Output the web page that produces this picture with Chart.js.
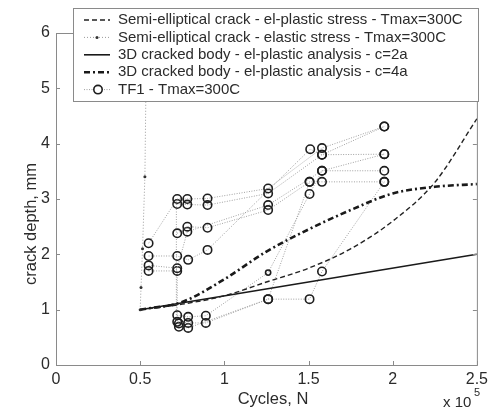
<!DOCTYPE html>
<html>
<head>
<meta charset="utf-8">
<script src="https://cdn.jsdelivr.net/npm/chart.js@4/dist/chart.umd.min.js"></script>
<style>
  html, body { margin: 0; padding: 0; background: #fff; }
  #crack { display: block; }
</style>
</head>
<body>
<canvas id="crack" width="493" height="411"></canvas>
<script>
// model curves (cycles, crack depth in mm)
const cyclesModel = [50000, 75000, 100000, 125000, 150000, 175000, 200000, 225000, 250000];
const depthElPlastic = [1.0, 1.1, 1.25, 1.5, 1.75, 2.1, 2.6, 3.3, 4.45];
const depthC4a = [1.0, 1.14, 1.55, 2.05, 2.45, 2.8, 3.1, 3.22, 3.27];

const cyclesC2a = [50000, 250000];
const depthC2a = [1.0, 2.0];

const cyclesElastic = [50000, 50500, 51400, 52800, 54000];
const depthElastic = [1.0, 1.4, 2.1, 3.4, 6.5];

// TF1 test specimens, each one a chain of measurements
const tf1Cycles = [
  [55000, 72000, 78000, 90000, 126000, 158000, 195000],
  [72000, 78000, 90000, 126000, 158000, 195000],
  [72000, 78000, 90000, 126000, 150600, 158000, 195000],
  [55000, 72000, 78500, 90000, 151000, 158000, 195000],
  [55000, 72000, 78000, 126000, 158000, 195000],
  [72000, 78500, 89000, 126000, 150600, 158000, 195000],
  [55000, 72000, 72000, 78500, 89000, 126000, 150600, 158000, 195000],
  [73000, 73000, 78500, 126000, 150600],
  [71500, 71500]
];
const tf1Depth = [
  [2.2, 3.0, 3.0, 3.01, 3.19, 3.92, 4.31],
  [2.91, 2.9, 2.89, 3.1, 3.8, 4.31],
  [2.38, 2.5, 2.48, 2.8, 3.31, 3.31, 3.31],
  [1.97, 1.97, 1.9, 2.08, 3.9, 3.8, 3.81],
  [1.8, 1.75, 2.41, 2.89, 3.51, 3.81],
  [0.9, 0.87, 0.89, 1.67, 3.09, 3.51, 3.51],
  [1.7, 1.7, 0.78, 0.76, 0.76, 1.19, 1.19, 1.69, 3.31],
  [0.75, 0.69, 0.67, 1.19, 3.31],
  [3.0, 0.9]
];

const xTicks = [0, 50000, 100000, 150000, 200000, 250000];
const yTicks = [0, 1, 2, 3, 4, 5, 6];

const FONT = "'Liberation Sans', Arial, sans-serif";
const INK = "#2b2b2b";
const FRAME = "#8a8a8a";

function pts(xs, ys) {
  return xs.map((x, i) => ({ x: x, y: ys[i] }));
}

const datasets = [
  {
    label: "Semi-elliptical crack - el-plastic stress - Tmax=300C",
    data: pts(cyclesModel, depthElPlastic),
    borderColor: "#222", borderWidth: 1.4, borderDash: [5, 3],
    pointRadius: 0, tension: 0.4, cubicInterpolationMode: "monotone"
  },
  {
    label: "Semi-elliptical crack - elastic stress - Tmax=300C",
    data: pts(cyclesElastic, depthElastic),
    borderColor: "#9a9a9a", borderWidth: 1, borderDash: [1, 2],
    pointRadius: 1.5, pointBackgroundColor: "#333", pointBorderColor: "#333", pointBorderWidth: 0
  },
  {
    label: "3D cracked body - el-plastic analysis - c=2a",
    data: pts(cyclesC2a, depthC2a),
    borderColor: "#1a1a1a", borderWidth: 1.6, pointRadius: 0
  },
  {
    label: "3D cracked body - el-plastic analysis - c=4a",
    data: pts(cyclesModel, depthC4a),
    borderColor: "#1a1a1a", borderWidth: 2.6, borderDash: [6, 3, 2, 3],
    pointRadius: 0, tension: 0.4, cubicInterpolationMode: "monotone"
  }
];

tf1Cycles.forEach((xs, k) => {
  datasets.push({
    label: k === 0 ? "TF1 - Tmax=300C" : "",
    legend: k === 0,
    data: pts(xs, tf1Depth[k]),
    borderColor: "#a0a0a0", borderWidth: 1, borderDash: [1, 1.5],
    pointRadius: k === 8 ? 0 : (ctx) => (k === 5 && ctx.dataIndex === 3 ? 2.6 : 4.2),
    pointBorderColor: "#1e1e1e", pointBorderWidth: 1.6,
    pointBackgroundColor: "rgba(0,0,0,0)"
  });
});

// inward ticks, frame, axis titles and the boxed legend
const decor = {
  id: "decor",
  afterDatasetsDraw(chart) {
    const { ctx, chartArea: a, scales } = chart;
    ctx.save();
    ctx.strokeStyle = FRAME;
    ctx.lineWidth = 1;
    ctx.setLineDash([]);
    ctx.strokeRect(a.left + 0.5, a.top + 0.5, a.right - a.left, a.bottom - a.top);
    ctx.beginPath();
    xTicks.forEach((v) => {
      const p = Math.round(scales.x.getPixelForValue(v)) + 0.5;
      ctx.moveTo(p, a.bottom); ctx.lineTo(p, a.bottom - 4);
      ctx.moveTo(p, a.top); ctx.lineTo(p, a.top + 4);
    });
    yTicks.forEach((v) => {
      const p = Math.round(scales.y.getPixelForValue(v)) + 0.5;
      ctx.moveTo(a.left, p); ctx.lineTo(a.left + 4, p);
      ctx.moveTo(a.right, p); ctx.lineTo(a.right - 4, p);
    });
    ctx.stroke();

    // axis titles
    ctx.fillStyle = INK;
    ctx.font = "16.5px " + FONT;
    ctx.textAlign = "center";
    ctx.textBaseline = "middle";
    ctx.fillText("Cycles, N", 273, 399);
    ctx.save();
    ctx.translate(31, 224);
    ctx.rotate(-Math.PI / 2);
    ctx.fillText("crack depth, mm", 0, 0);
    ctx.restore();
    ctx.textAlign = "left";
    ctx.font = "15px " + FONT;
    ctx.fillText("x 10", 443, 403);
    ctx.font = "11px " + FONT;
    ctx.fillText("5", 474, 393);

    // legend
    const box = { x: 73, y: 8, w: 405, h: 93 };
    ctx.fillStyle = "#fff";
    ctx.fillRect(box.x, box.y, box.w, box.h);
    ctx.strokeStyle = FRAME;
    ctx.strokeRect(box.x + 0.5, box.y + 0.5, box.w, box.h);
    const items = chart.data.datasets.filter((d, i) => i < 4 || d.legend);
    items.forEach((d, i) => {
      const y = 20 + i * 17.4;
      ctx.strokeStyle = d.borderColor;
      ctx.lineWidth = d.borderWidth;
      ctx.setLineDash(d.borderDash || []);
      ctx.beginPath();
      ctx.moveTo(84, y); ctx.lineTo(110, y);
      ctx.stroke();
      ctx.setLineDash([]);
      if (d.legend) {
        ctx.strokeStyle = d.pointBorderColor;
        ctx.lineWidth = d.pointBorderWidth;
        ctx.fillStyle = "#fff";
        ctx.beginPath();
        ctx.arc(98, y, 4.2, 0, Math.PI * 2);
        ctx.fill();
        ctx.stroke();
      } else if (d.pointRadius === 1.5) {
        ctx.fillStyle = "#333";
        ctx.beginPath();
        ctx.arc(97, y, 1.5, 0, Math.PI * 2);
        ctx.fill();
      }
      ctx.fillStyle = INK;
      ctx.font = "15px " + FONT;
      ctx.textAlign = "left";
      ctx.textBaseline = "middle";
      ctx.fillText(d.label, 118, y);
    });
    ctx.restore();
  }
};

const config = {
  type: "scatter",
  data: { datasets: datasets },
  options: {
    responsive: false,
    animation: false,
    showLine: true,
    layout: { padding: { top: 33, right: 12, left: 0, bottom: 0 } },
    plugins: {
      legend: { display: false },
      tooltip: { enabled: false }
    },
    scales: {
      x: {
        type: "linear", min: 0, max: 250000,
        afterFit: (s) => { s.height = 46; },
        afterBuildTicks: (s) => { s.ticks = xTicks.map((v) => ({ value: v })); },
        grid: { display: false, drawTicks: false },
        border: { display: false },
        ticks: {
          padding: 5, color: INK, font: { family: FONT, size: 16 },
          maxRotation: 0, autoSkip: false,
          callback: (v) => String(v / 100000)
        }
      },
      y: {
        type: "linear", min: 0, max: 6,
        afterFit: (s) => { s.width = 56; },
        afterBuildTicks: (s) => { s.ticks = yTicks.map((v) => ({ value: v })); },
        grid: { display: false, drawTicks: false },
        border: { display: false },
        ticks: { padding: 6, color: INK, font: { family: FONT, size: 16 } }
      }
    }
  },
  plugins: [decor]
};

window.addEventListener("load", function () {
  const ctx = document.getElementById("crack");
  new Chart(ctx, config);
});
</script>
</body>
</html>
